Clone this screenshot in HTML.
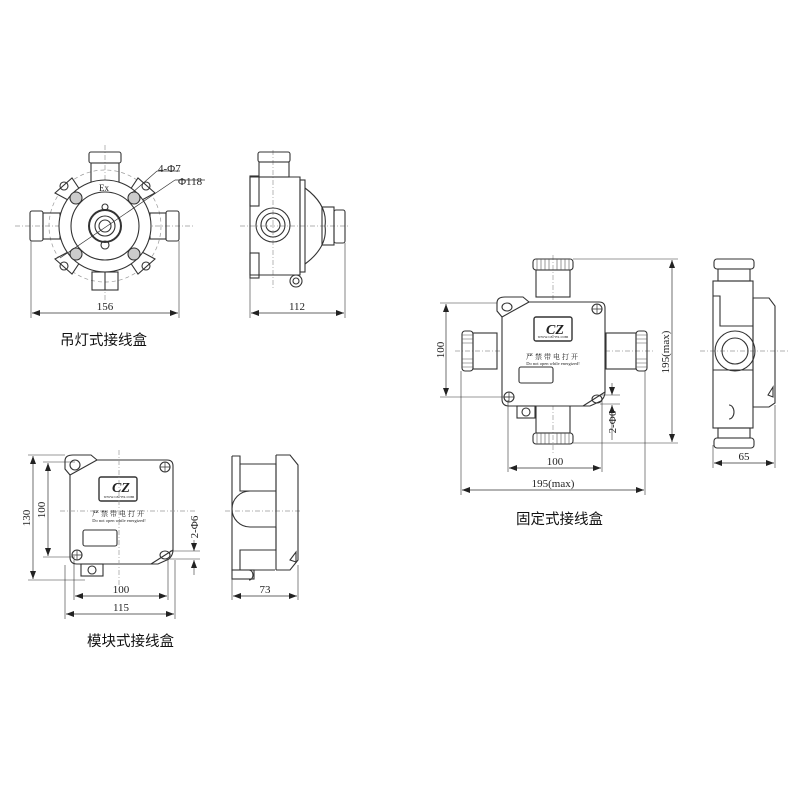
<!DOCTYPE html>
<html><head><meta charset="utf-8"><style>
html,body{margin:0;padding:0;background:#fff}
svg{display:block}
text{font-family:"Liberation Serif","Noto Serif CJK SC",serif;fill:#222}
.cn{font-family:"Liberation Sans","Noto Sans CJK SC",sans-serif;font-size:14.5px;fill:#111}
</style></head><body>
<svg width="800" height="800" viewBox="0 0 800 800" xmlns="http://www.w3.org/2000/svg">
<defs>
<marker id="a" markerWidth="8" markerHeight="6" refX="8" refY="3" orient="auto-start-reverse" markerUnits="userSpaceOnUse"><path d="M0,0 L8,3 L0,6z" fill="#222"/></marker>
</defs>
<g fill="none" stroke="#333" stroke-width="1.1">
<!-- ===== Hanging lamp front ===== -->
<g stroke="#999" stroke-dasharray="5,2,1,2" stroke-width="0.7">
<line x1="15" y1="226" x2="195" y2="226"/><line x1="105" y1="145" x2="105" y2="300"/>
<circle cx="105" cy="226" r="56" stroke-dasharray="4,3"/>
</g>
<rect x="89" y="152" width="32" height="11" rx="2"/>
<rect x="91" y="163" width="28" height="20"/>
<rect x="30" y="211" width="13" height="30" rx="2"/>
<rect x="43" y="213" width="17" height="26"/>
<rect x="166" y="211" width="13" height="30" rx="2"/>
<rect x="150" y="213" width="16" height="26"/>
<g fill="#fff">
<path d="M55,193 L72,178 L80,190 L68,200z"/><path d="M155,193 L138,178 L130,190 L142,200z"/>
<path d="M55,259 L72,274 L80,262 L68,252z"/><path d="M155,259 L138,274 L130,262 L142,252z"/>
</g>
<circle cx="64" cy="186" r="4"/><circle cx="146" cy="186" r="4"/><circle cx="64" cy="266" r="4"/><circle cx="146" cy="266" r="4"/>
<circle cx="105" cy="226" r="46" fill="#fff"/>
<circle cx="105" cy="226" r="34"/>
<g fill="#ccc"><circle cx="76" cy="198" r="6"/><circle cx="134" cy="198" r="6"/><circle cx="76" cy="254" r="6"/><circle cx="134" cy="254" r="6"/></g>
<circle cx="105" cy="226" r="16" stroke-width="2"/><circle cx="105" cy="226" r="10"/><circle cx="105" cy="226" r="6"/>
<circle cx="105" cy="207" r="3"/><circle cx="105" cy="245" r="4"/>
<rect x="92" y="272" width="26" height="18"/><line x1="105" y1="272" x2="105" y2="290"/>
<line x1="60" y1="258" x2="175" y2="180" stroke-width="0.7"/>
<line x1="132" y1="193" x2="157" y2="171" stroke-width="0.7"/><line x1="157" y1="171" x2="180" y2="171" stroke-width="0.7"/>
<line x1="175" y1="180" x2="205" y2="180" stroke-width="0.7"/>
<line x1="31" y1="241" x2="31" y2="318" stroke-width="0.6"/><line x1="179" y1="241" x2="179" y2="318" stroke-width="0.6"/>
<line x1="32" y1="313" x2="178" y2="313" stroke-width="0.7" marker-start="url(#a)" marker-end="url(#a)"/>
<!-- ===== Hanging lamp side ===== -->
<g stroke="#999" stroke-dasharray="5,2,1,2" stroke-width="0.7"><line x1="240" y1="226" x2="350" y2="226"/><line x1="273" y1="150" x2="273" y2="290"/></g>
<rect x="258" y="152" width="32" height="10" rx="2"/>
<rect x="259" y="162" width="30" height="15"/>
<path d="M250,177 L300,177 L300,275 L250,275z"/>
<rect x="250" y="176" width="9" height="30"/><rect x="250" y="253" width="9" height="25"/>
<rect x="300" y="180" width="5" height="92"/>
<path d="M305,188 Q328,205 325,226 Q328,247 305,264"/>
<rect x="322" y="207" width="12" height="38"/><rect x="334" y="210" width="11" height="33" rx="2"/>
<circle cx="273" cy="225" r="17"/><circle cx="273" cy="225" r="12"/><circle cx="273" cy="225" r="7"/>
<circle cx="296" cy="281" r="6"/><circle cx="296" cy="281" r="3"/>
<line x1="250" y1="278" x2="250" y2="318" stroke-width="0.6"/><line x1="345" y1="243" x2="345" y2="318" stroke-width="0.6"/>
<line x1="251" y1="313" x2="344" y2="313" stroke-width="0.7" marker-start="url(#a)" marker-end="url(#a)"/>

<!-- ===== Fixed box front ===== -->
<g stroke="#999" stroke-dasharray="5,2,1,2" stroke-width="0.7"><line x1="455" y1="351" x2="655" y2="351"/><line x1="553" y1="255" x2="553" y2="455"/></g>
<rect x="533" y="259" width="40" height="11" rx="3"/><rect x="536" y="270" width="34" height="27"/>
<rect x="533" y="433" width="40" height="11" rx="3"/><rect x="536" y="405" width="34" height="28"/>
<rect x="462" y="331" width="11" height="40" rx="3"/><rect x="473" y="333" width="24" height="36"/>
<rect x="636" y="331" width="11" height="40" rx="3"/><rect x="606" y="333" width="30" height="36"/>
<g stroke="#555" stroke-width="0.6"><path d="M537,259v11M541,259v11M545,259v11M549,259v11M557,259v11M561,259v11M565,259v11M569,259v11M537,433v11M541,433v11M545,433v11M549,433v11M557,433v11M561,433v11M565,433v11M569,433v11M462,335h11M462,339h11M462,343h11M462,359h11M462,363h11M462,367h11M636,335h11M636,339h11M636,343h11M636,359h11M636,363h11M636,367h11"/></g>

<g transform="translate(497,297)">
<path d="M8,0 L26,0 L32,5 L102,5 Q108,5 108,11 L108,95 Q108,100 104,104 L93,109 L12,109 Q5,109 5,102 L5,20 L0,14 L0,6 Q0,0 8,0z" fill="#fff"/>
<path d="M5,20 L32,5"/><path d="M86,109 L108,95"/>
<ellipse cx="10" cy="10" rx="5" ry="4"/><ellipse cx="100" cy="102" rx="5" ry="4"/>
<circle cx="100" cy="12" r="5"/><path d="M95,12h10M100,7v10" stroke-width="0.7"/>
<circle cx="12" cy="100" r="5"/><path d="M7,100h10M12,95v10" stroke-width="0.7"/>
<rect x="37" y="20" width="38" height="24" rx="2" stroke-width="1.4"/>
<rect x="22" y="70" width="34" height="16" rx="2"/>
<rect x="20" y="109" width="18" height="12"/><circle cx="29" cy="115" r="4"/>
</g>
<g transform="translate(65,455)">
<path d="M8,0 L26,0 L32,5 L102,5 Q108,5 108,11 L108,95 Q108,100 104,104 L93,109 L12,109 Q5,109 5,102 L5,20 L0,14 L0,6 Q0,0 8,0z" fill="#fff"/>
<path d="M5,20 L32,5"/><path d="M86,109 L108,95"/>
<ellipse cx="10" cy="10" rx="5" ry="5"/><ellipse cx="100" cy="100" rx="5" ry="4"/>
<circle cx="100" cy="12" r="5"/><path d="M95,12h10M100,7v10" stroke-width="0.7"/>
<circle cx="12" cy="100" r="5"/><path d="M7,100h10M12,95v10" stroke-width="0.7"/>
<rect x="34" y="22" width="38" height="24" rx="2" stroke-width="1.4"/>
<rect x="18" y="75" width="34" height="16" rx="2"/>
<rect x="16" y="109" width="22" height="12"/><circle cx="27" cy="115" r="4"/>
</g>
<!-- fixed dims -->
<line x1="440" y1="303" x2="497" y2="303" stroke-width="0.6"/><line x1="440" y1="397" x2="510" y2="397" stroke-width="0.6"/>
<line x1="446" y1="304" x2="446" y2="396" stroke-width="0.7" marker-start="url(#a)" marker-end="url(#a)"/>
<line x1="573" y1="259" x2="678" y2="259" stroke-width="0.6"/><line x1="573" y1="443" x2="678" y2="443" stroke-width="0.6"/>
<line x1="672" y1="260" x2="672" y2="442" stroke-width="0.7" marker-start="url(#a)" marker-end="url(#a)"/>
<line x1="508" y1="400" x2="508" y2="472" stroke-width="0.6"/><line x1="602" y1="400" x2="602" y2="472" stroke-width="0.6"/>
<line x1="509" y1="468" x2="601" y2="468" stroke-width="0.7" marker-start="url(#a)" marker-end="url(#a)"/>
<line x1="461" y1="371" x2="461" y2="495" stroke-width="0.6"/><line x1="645" y1="371" x2="645" y2="495" stroke-width="0.6"/>
<line x1="462" y1="490" x2="644" y2="490" stroke-width="0.7" marker-start="url(#a)" marker-end="url(#a)"/>
<line x1="612" y1="383" x2="612" y2="395" stroke-width="0.6" marker-end="url(#a)"/><line x1="612" y1="405" x2="612" y2="440" stroke-width="0.6" marker-start="url(#a)"/>
<line x1="600" y1="395" x2="620" y2="395" stroke-width="0.5"/><line x1="600" y1="404" x2="620" y2="404" stroke-width="0.5"/>
<!-- fixed side -->
<g stroke="#999" stroke-dasharray="5,2,1,2" stroke-width="0.7"><line x1="700" y1="351" x2="790" y2="351"/></g>
<rect x="714" y="259" width="40" height="10" rx="3"/><rect x="718" y="269" width="32" height="12"/>
<rect x="714" y="438" width="40" height="10" rx="3"/><rect x="718" y="428" width="32" height="10"/>
<rect x="713" y="281" width="40" height="147"/>
<path d="M713,296 h7 v30 h33"/><path d="M713,370 h40"/>
<path d="M753,298 h16 l6,8 v97 l-6,4 h-16z"/>
<circle cx="735" cy="351" r="20"/><circle cx="735" cy="351" r="13"/>
<path d="M768,395 l5,-8 v10z"/><path d="M729,405 a5,7 0 0 1 0,14"/>
<line x1="713" y1="445" x2="713" y2="468" stroke-width="0.6"/><line x1="775" y1="405" x2="775" y2="468" stroke-width="0.6"/>
<line x1="714" y1="463" x2="774" y2="463" stroke-width="0.7" marker-start="url(#a)" marker-end="url(#a)"/>

<!-- module dims -->
<g stroke="#999" stroke-dasharray="5,2,1,2" stroke-width="0.7"><line x1="60" y1="511" x2="195" y2="511"/><line x1="119" y1="450" x2="119" y2="585"/><line x1="225" y1="511" x2="300" y2="511"/></g>
<line x1="28" y1="455" x2="65" y2="455" stroke-width="0.6"/><line x1="28" y1="580" x2="85" y2="580" stroke-width="0.6"/>
<line x1="33" y1="456" x2="33" y2="579" stroke-width="0.7" marker-start="url(#a)" marker-end="url(#a)"/>
<line x1="43" y1="462" x2="75" y2="462" stroke-width="0.6"/><line x1="43" y1="557" x2="75" y2="557" stroke-width="0.6"/>
<line x1="48" y1="463" x2="48" y2="556" stroke-width="0.7" marker-start="url(#a)" marker-end="url(#a)"/>
<line x1="74" y1="560" x2="74" y2="600" stroke-width="0.6"/><line x1="168" y1="560" x2="168" y2="600" stroke-width="0.6"/>
<line x1="75" y1="596" x2="167" y2="596" stroke-width="0.7" marker-start="url(#a)" marker-end="url(#a)"/>
<line x1="65" y1="565" x2="65" y2="619" stroke-width="0.6"/><line x1="175" y1="560" x2="175" y2="619" stroke-width="0.6"/>
<line x1="66" y1="614" x2="174" y2="614" stroke-width="0.7" marker-start="url(#a)" marker-end="url(#a)"/>
<line x1="194" y1="540" x2="194" y2="551" stroke-width="0.6" marker-end="url(#a)"/><line x1="194" y1="560" x2="194" y2="575" stroke-width="0.6" marker-start="url(#a)"/>
<line x1="170" y1="551" x2="200" y2="551" stroke-width="0.5"/><line x1="170" y1="559" x2="200" y2="559" stroke-width="0.5"/>
<!-- module side -->
<path d="M232,456 h8 v8 h36 v46"/>
<path d="M232,456 v114 h43"/>
<path d="M240,464 v27 h36"/>
<path d="M276,491 h-26 a18,18 0 0 0 0,36 h26"/>
<path d="M276,527 v23 h-36 v20"/>
<path d="M276,455 v115"/>
<path d="M276,455 h14 l8,10 v95 l-8,10 h-14"/>
<path d="M290,560 l6,-8 v10z"/>
<rect x="232" y="570" width="22" height="9"/><path d="M249,570 a4,5 0 0 1 0,10"/>
<line x1="232" y1="578" x2="232" y2="600" stroke-width="0.6"/><line x1="298" y1="565" x2="298" y2="600" stroke-width="0.6"/>
<line x1="233" y1="596" x2="297" y2="596" stroke-width="0.7" marker-start="url(#a)" marker-end="url(#a)"/>
</g>

<!-- labels / logos -->
<g font-size="11">
<text x="105" y="310" text-anchor="middle">156</text>
<text x="297" y="310" text-anchor="middle">112</text>
<text x="158" y="172">4-Φ7</text>
<text x="178" y="185">Φ118</text>
<text x="99" y="191" font-size="9" fill="#666">Ex</text>
<text x="555" y="465" text-anchor="middle">100</text>
<text x="553" y="487" text-anchor="middle">195(max)</text>
<text x="744" y="460" text-anchor="middle">65</text>
<text x="121" y="593" text-anchor="middle">100</text>
<text x="121" y="611" text-anchor="middle">115</text>
<text x="265" y="593" text-anchor="middle">73</text>
<text transform="translate(444,350) rotate(-90)" text-anchor="middle">100</text>
<text transform="translate(669,352) rotate(-90)" text-anchor="middle">195(max)</text>
<text transform="translate(616,422) rotate(-90)" text-anchor="middle">2-Φ6</text>
<text transform="translate(30,518) rotate(-90)" text-anchor="middle">130</text>
<text transform="translate(45,510) rotate(-90)" text-anchor="middle">100</text>
<text transform="translate(198,527) rotate(-90)" text-anchor="middle">2-Φ6</text>
</g>
<g font-family="Liberation Sans,sans-serif" font-weight="bold" font-style="italic">
<text x="555" y="334" font-size="14" text-anchor="middle" fill="#222">CZ</text>
<text x="121" y="492" font-size="14" text-anchor="middle" fill="#222">CZ</text>
</g>
<g font-family="Liberation Sans,sans-serif" font-size="4.5" text-anchor="middle" fill="#444">
<text x="553" y="338">www.czl-ex.com</text>
<text x="119" y="498">www.czl-ex.com</text>
<text x="553" y="365">Do not open while energized!</text>
<text x="119" y="522">Do not open while energized!</text>
</g>
<g font-family="Liberation Sans,Noto Sans CJK SC,sans-serif" font-size="7" text-anchor="middle" fill="#444" letter-spacing="2">
<text x="553" y="359">严禁带电打开</text>
<text x="119" y="516">严禁带电打开</text>
</g>
<text class="cn" x="60" y="345">吊灯式接线盒</text>
<text class="cn" x="516" y="524">固定式接线盒</text>
<text class="cn" x="87" y="646">模块式接线盒</text>
</svg>
</body></html>
